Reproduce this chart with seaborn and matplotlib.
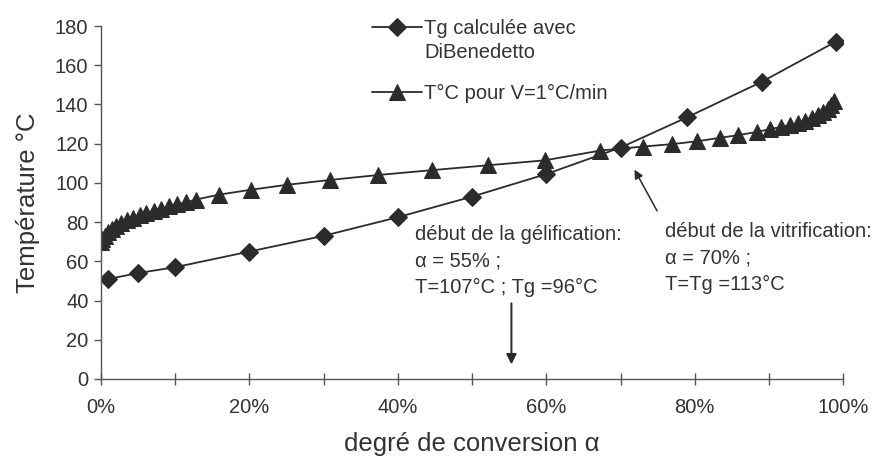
import matplotlib
matplotlib.use('Agg')
import matplotlib.pyplot as plt
import seaborn as sns
import pandas as pd
from matplotlib.ticker import FuncFormatter, MultipleLocator

# Data (conversion in %, temperature in degC)
alpha_tg = [1, 5, 10, 20, 30, 40, 50, 60, 70, 79, 89, 99]
tg_dibenedetto = [51, 54, 57, 65, 73, 82.5, 93, 104.5, 118, 133.5, 151.5, 172]

alpha_t = [0, 0.2, 0.5, 1, 1.5, 2, 2.7, 3.5, 4.3, 5.2, 6.1, 7.1, 8.1, 9.2,
           10.3, 11.5, 12.8, 15.9, 20.2, 25, 30.9, 37.3, 44.6, 52.2, 59.8,
           67.3, 73, 77, 80.3, 83.4, 85.8, 88.4, 90.2, 91.6, 92.8, 93.9,
           94.9, 95.8, 96.6, 97.3, 97.9, 98.4, 98.8]
t_1cmin = [70, 71.5, 73, 75, 76.5, 78, 79.5, 81, 82.3, 83.5, 84.7, 85.8, 86.9, 88,
           89, 90.2, 91.5, 94, 96.5, 99, 101.5, 104, 106.5, 109, 111.5,
           116.5, 118.5, 119.8, 121.2, 123, 124.3, 126, 127.5, 128.5, 129.5, 130.5,
           131.8, 133, 134.5, 136, 137.5, 139.5, 142]

label_tg = 'Tg calculée avec'
label_tg_2 = 'DiBenedetto'   # second line of the first legend entry
label_t = 'T°C pour V=1°C/min'

df_tg = pd.DataFrame({'alpha': alpha_tg, 'T': tg_dibenedetto})
df_t = pd.DataFrame({'alpha': alpha_t, 'T': t_1cmin})

sns.set_style('white')
plt.rcParams['font.family'] = ['Liberation Sans', 'DejaVu Sans']

ink = '#2b2b2b'
txt = '#333333'
axc = '#555555'

fig = plt.figure(figsize=(8.82, 4.62), dpi=100)
ax = fig.add_axes([0.1145, 0.1797, 0.8415, 0.764])

sns.lineplot(data=df_tg, x='alpha', y='T', ax=ax, color=ink, lw=1.3,
             marker='D', markersize=9, markeredgecolor=ink, label=label_tg, sort=False)
sns.lineplot(data=df_t, x='alpha', y='T', ax=ax, color=ink, lw=1.3,
             marker='^', markersize=11, markeredgecolor=ink, label=label_t, sort=False)

ax.set_xlim(0, 100)
ax.set_ylim(0, 180)
ax.xaxis.set_major_locator(MultipleLocator(20))
ax.xaxis.set_minor_locator(MultipleLocator(10))
ax.yaxis.set_major_locator(MultipleLocator(20))
ax.xaxis.set_major_formatter(FuncFormatter(lambda v, p: f'{v:.0f}%'))

for s in ['top', 'right']:
    ax.spines[s].set_visible(False)
for s in ['left', 'bottom']:
    ax.spines[s].set_color(axc)
    ax.spines[s].set_linewidth(1.0)

ax.tick_params(axis='x', which='both', direction='inout', length=9, width=1,
               color=axc, pad=9, labelsize=14.5, labelcolor=txt, bottom=True)
ax.tick_params(axis='y', direction='out', length=5, width=1, left=True,
               color=axc, pad=4, labelsize=14.5, labelcolor=txt)

ax.set_xlabel('degré de conversion α', fontsize=18.5, color=txt, labelpad=11)
ax.set_ylabel('Température °C', fontsize=18.5, color=txt, labelpad=11)

ax.text(42.3, 78.5, 'début de la gélification:\nα = 55% ;\nT=107°C ; Tg =96°C',
        fontsize=14.5, color=txt, va='top', ha='left', linespacing=1.5)
ax.text(76, 80, 'début de la vitrification:\nα = 70% ;\nT=Tg =113°C',
        fontsize=14.5, color=txt, va='top', ha='left', linespacing=1.5)

ax.annotate('', xy=(55.3, 6), xytext=(55.3, 40),
            arrowprops=dict(arrowstyle='-|>', color=ink, lw=1.4, mutation_scale=15))
ax.annotate('', xy=(71.7, 108), xytext=(75.1, 84.5),
            arrowprops=dict(arrowstyle='-|>', color=ink, lw=1.1, mutation_scale=13))

leg = ax.legend(loc='upper left', bbox_to_anchor=(0.4218, 0.959),
                bbox_transform=fig.transFigure, frameon=False, fontsize=14.5,
                handlelength=2.5, handletextpad=0.1, labelspacing=2.3,
                borderpad=0, borderaxespad=0)
for t in leg.get_texts():
    t.set_color(txt)

# second line of the first legend label, hung under the first line
# (drawn after the legend so the legend text is already placed)
ax.annotate(label_tg_2, xy=(0, 0), xycoords=leg.get_texts()[0],
            xytext=(0, -4), textcoords='offset points',
            ha='left', va='top', fontsize=14.5, color=txt, zorder=10)

fig.savefig('out.png', dpi=100)
